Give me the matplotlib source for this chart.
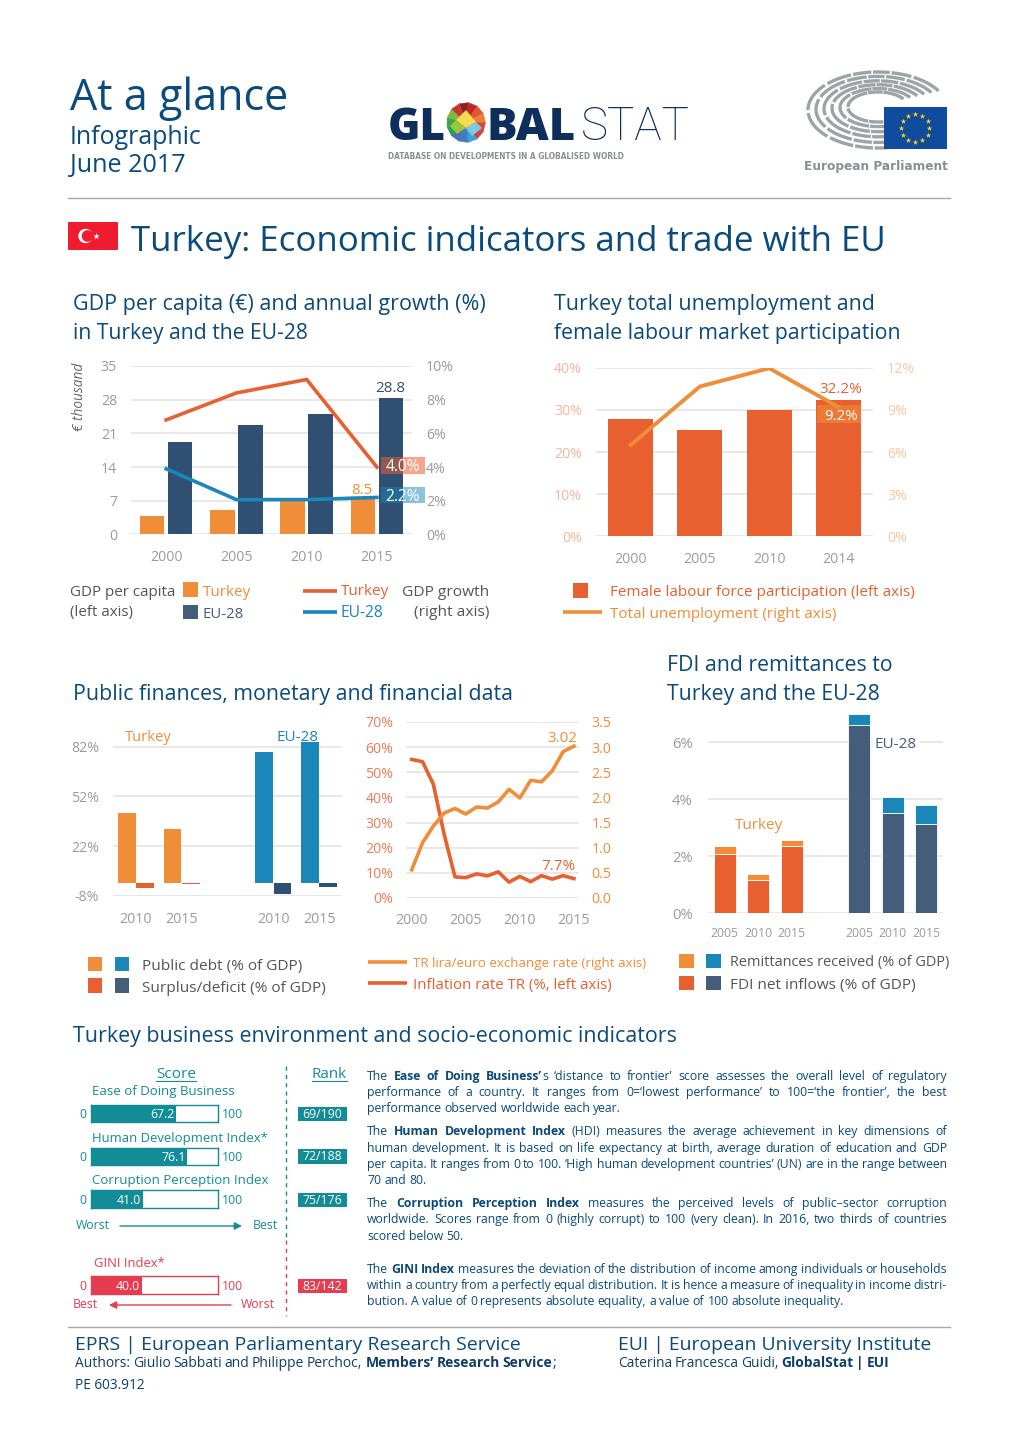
import numpy as np
import matplotlib
matplotlib.use("Agg")
import matplotlib.pyplot as plt
from matplotlib.patches import Rectangle, Polygon, Circle, Arc

W, H = 1020, 1442
plt.rcParams["font.family"] = ["Open Sans", "DejaVu Sans"]

# colours
NAVY = "#0a4a7d"
ORANGE = "#f08d38"
RED = "#e85f30"
DARK = "#2f5073"
BLUE = "#1a86ba"
SLATE = "#445d7a"
TEAL = "#128c97"
PINK = "#e63c50"
GREY = "#9b9b9b"
TXT = "#555555"
GRID = "#e8e8e8"

# GDP per capita and growth
years_gdp = ["2000", "2005", "2010", "2015"]
gdp_turkey = [3.9, 5.0, 7.0, 7.4]
gdp_eu = [19.3, 22.8, 25.0, 28.4]
growth_turkey = [6.8, 8.4, 9.2, 4.0]
growth_eu = [3.9, 2.07, 2.07, 2.2]

# female participation and unemployment
years_lab = ["2000", "2005", "2010", "2014"]
female_part = [27.8, 25.1, 30.0, 32.2]
unemployment = [6.5, 10.65, 11.95, 9.2]

# public finances
fin_years = ["2010", "2015", "2010", "2015"]
debt = [41.8, 32.3, 78.5, 85.0]
deficit = [-3.4, -0.7, -7.0, -2.8]

# inflation and exchange rate
years_tr = list(range(2000, 2016))
inflation = [55.1, 54.2, 45.2, 25.3, 8.4, 8.1, 9.6, 8.8, 10.4, 6.3, 8.6, 6.5, 8.9, 7.5, 8.9, 7.7]
lira_euro = [0.56, 1.10, 1.43, 1.69, 1.78, 1.67, 1.81, 1.79, 1.91, 2.16, 1.99, 2.34, 2.31, 2.53, 2.91, 3.02]

# FDI and remittances
fdi_years = ["2005", "2010", "2015", "2005", "2010", "2015"]
fdi = [2.07, 1.17, 2.38, 6.6, 3.54, 3.14]
remit = [0.31, 0.21, 0.20, 0.40, 0.53, 0.66]

# indices
idx_names = ["Ease of Doing Business", "Human Development Index*", "Corruption Perception Index", "GINI Index*"]
idx_scores = [67.2, 76.1, 41.0, 40.0]
idx_ranks = ["69/190", "72/188", "75/176", "83/142"]

para_lines = [
    (1076, "The **Ease of Doing Business’**s ‘distance to frontier’ score assesses the overall level of regulatory", True),
    (1092, "performance of a country. It ranges from 0=‘lowest performance’ to 100=‘the frontier’, the best", True),
    (1108, "performance observed worldwide each year.", False),
    (1131, "The **Human Development Index** (HDI) measures the average achievement in key dimensions of", True),
    (1148, "human development. It is based on life expectancy at birth, average duration of education and GDP", True),
    (1164, "per capita. It ranges from 0 to 100. ‘High human development countries’ (UN) are in the range between", True),
    (1180, "70 and 80.", False),
    (1203, "The **Corruption Perception Index** measures the perceived levels of public–sector corruption", True),
    (1219, "worldwide. Scores range from 0 (highly corrupt) to 100 (very clean). In 2016, two thirds of countries", True),
    (1236, "scored below 50.", False),
    (1269, "The **GINI Index** measures the deviation of the distribution of income among individuals or households", True),
    (1285, "within a country from a perfectly equal distribution. It is hence a measure of inequality in income distri-", True),
    (1301, "bution. A value of 0 represents absolute equality, a value of 100 absolute inequality.", False),
]

fig = plt.figure(figsize=(W / 100, H / 100), dpi=100, facecolor="white")
pix = fig.add_axes([0, 0, 1, 1], zorder=10)
pix.set_xlim(0, W)
pix.set_ylim(H, 0)
pix.axis("off")
pix.patch.set_alpha(0)
rend = fig.canvas.get_renderer()


def fit(x0, x1, y, s, color=NAVY, size=10, **kw):
    t = pix.text(x0, y, s, color=color, fontsize=size, va="baseline", ha="left", **kw)
    t.set_fontsize(size * (x1 - x0) / t.get_window_extent(rend).width)
    return t


def label(x, y, s, color=GREY, size=9.5, ha="center", **kw):
    return pix.text(x, y, s, color=color, fontsize=size, ha=ha, va="baseline", **kw)


def words_of(line):
    out = []
    prev_space = True
    for i, part in enumerate(line.split("**")):
        for j, p in enumerate(part.split(" ")):
            if p:
                out.append((p, i % 2 == 1, j == 0 and not prev_space))
        if part:
            prev_space = part.endswith(" ")
    return out


def mixed(x0, x1, y, line, size=8.85, justify=True, color=NAVY):
    items = []
    for w, b, glue in words_of(line):
        t = pix.text(x0, y, w, color=color, fontsize=size, fontweight="bold" if b else "normal", va="baseline")
        items.append((t, t.get_window_extent(rend).width, glue))
    space = 0.26 * size * 100 / 72
    ngaps = sum(1 for it in items[1:] if not it[2])
    total = sum(it[1] for it in items)
    scale = 1.0
    if total + ngaps * space * 0.75 > x1 - x0:
        scale = (x1 - x0) / (total + ngaps * space * 0.75)
        for it in items:
            it[0].set_fontsize(size * scale)
        total *= scale
        space *= scale
    gap = (x1 - x0 - total) / ngaps if justify and ngaps else space
    x = x0
    for k, (t, w, glue) in enumerate(items):
        if k and not glue:
            x += gap
        t.set_x(x)
        x += w * scale


def axpx(x0, x1, ytop, ybot):
    ax = fig.add_axes([x0 / W, 1 - ybot / H, (x1 - x0) / W, (ybot - ytop) / H])
    ax.patch.set_alpha(0)
    for s in ax.spines.values():
        s.set_visible(False)
    return ax


def style(ax, left=GREY, pad=10, xcolor=GREY, size=10.2, xpad=10.5):
    ax.tick_params(axis="y", length=0, pad=pad, labelcolor=left, labelsize=size)
    ax.tick_params(axis="x", length=0, pad=xpad, labelcolor=xcolor, labelsize=size)
    ax.yaxis.grid(True, color=GRID, lw=1.4)
    ax.set_axisbelow(True)


def swatch(x0, x1, y0, y1, c):
    pix.add_patch(Rectangle((x0, y0), x1 - x0, y1 - y0, color=c, lw=0))


def legline(x0, x1, y, c):
    pix.plot([x0, x1], [y, y], color=c, lw=2.6, solid_capstyle="butt")


# ---- header ----
fit(70, 289, 110, "At a glance", size=34)
fit(70, 202, 144, "Infographic", size=18)
fit(70, 186, 172, "June 2017", size=18)
pix.plot([68, 950], [198, 198], color="#a8a8a8", lw=1)
fit(131, 886, 251, "Turkey: Economic indicators and trade with EU", size=28)

# flag
pix.add_patch(Rectangle((68, 222), 50, 28, color="#ee1c2e", lw=0))
pix.add_patch(Circle((85.5, 236), 7.2, color="white", lw=0))
pix.add_patch(Circle((87.5, 236), 5.8, color="#ee1c2e", lw=0))
pix.scatter([96], [236], marker="*", s=24, color="white", lw=0)

# globalstat logo
fit(388, 446, 140, "GL", color="#0e2f5c", size=30, fontweight="heavy")
fit(487, 576, 140, "BAL", color="#0e2f5c", size=30, fontweight="heavy")
fit(581, 690, 140, "STAT", color="#0e2f5c", size=30, family=["Roboto"], fontweight=200)
fit(388, 624, 159, "DATABASE ON DEVELOPMENTS IN A GLOBALISED WORLD", color="#8a8f95", size=8,
    family=["DejaVu Sans"], fontstretch="condensed", fontweight="bold")

# egg: a fan of facets around a centre, plus the pale middle
egg_cols = ["#8a1f24", "#c2262c", "#e0582f", "#ef7d33", "#d2493c", "#c9473f",
            "#3f9fd8", "#3f7cc4", "#4c6fb0", "#2e9f52", "#3aa54a", "#7db83f", "#c8372f"]
ang = np.radians(np.linspace(-110, 250, len(egg_cols) + 1))
ex = 466 + 19.5 * np.cos(ang)
ey = 122.5 + 20 * np.sin(ang)
for k, col in enumerate(egg_cols):
    pix.add_patch(Polygon([(466, 122.5), (ex[k], ey[k]), (ex[k + 1], ey[k + 1])], closed=True, color=col, lw=0.3))
pix.add_patch(Polygon([(456, 120), (466, 110), (476, 122), (466, 128)], closed=True, color="#f7dc50", lw=0))
pix.add_patch(Polygon([(466, 128), (476, 122), (482, 128), (472, 136)], closed=True, color="#7fc7e3", lw=0))
pix.add_patch(Polygon([(456, 120), (466, 128), (457, 134), (450, 126)], closed=True, color="#9ac53f", lw=0))

# parliament logo
rings = [(140, 76), (124, 66), (108, 56), (92, 47), (76, 38), (60, 30)]
for i, (w, h) in enumerate(rings):
    starts = np.arange(70, 345, 275 / (5 + (5 - i)))
    step = 275 / (5 + (5 - i))
    for th in starts:
        pix.add_patch(Arc((878, 110 - 0.6 * i), w, h, theta1=th, theta2=th + step - 2.5,
                          color="#9ea3a8", lw=2.4, capstyle="butt"))
pix.add_patch(Rectangle((884, 107), 63, 42, color="#0f4c9e", lw=0, zorder=3))
sang = np.radians(np.arange(0, 360, 30))
pix.scatter(915.5 + 14 * np.cos(sang), 128 + 14 * np.sin(sang), marker="*", s=17, color="#ffd617", lw=0, zorder=4)
fit(804, 947, 170, "European Parliament", color="#8a8f95", size=12,
    family=["DejaVu Sans"], fontstretch="condensed", fontweight="bold")

# ---- section titles ----
fit(73, 486, 310, "GDP per capita (€) and annual growth (%)", size=16)
fit(73, 309, 339, "in Turkey and the EU-28", size=16)
fit(554, 875, 310, "Turkey total unemployment and", size=16)
fit(554, 901, 339, "female labour market participation", size=16)
fit(73, 512, 700, "Public finances, monetary and financial data", size=16)
fit(667, 893, 671, "FDI and remittances to", size=16)
fit(667, 880, 700, "Turkey and the EU-28", size=16)
fit(73, 677, 1042, "Turkey business environment and socio-economic indicators", size=16)

# ---- chart 1 ----
ax = axpx(131, 412, 366, 534.5)
x = np.arange(len(years_gdp))
ax.bar(x - 0.2, gdp_turkey, 0.35, color=ORANGE)
ax.bar(x + 0.2, gdp_eu, 0.35, color=DARK)
ax.set_xlim(-0.5, 3.5)
ax.set_ylim(0, 35)
ax.set_yticks([0, 7, 14, 21, 28, 35])
ax.set_xticks(x, years_gdp)
style(ax, xpad=11)
ax2 = ax.twinx()
ax2.plot(x, growth_turkey, color=RED, lw=2.6, solid_joinstyle="miter")
ax2.plot(x, growth_eu, color=BLUE, lw=2.6, solid_joinstyle="miter")
ax2.set_ylim(0, 10)
ax2.set_yticks([0, 2, 4, 6, 8, 10], ["0%", "2%", "4%", "6%", "8%", "10%"])
ax2.tick_params(axis="y", length=0, pad=10, labelcolor=GREY, labelsize=10.2)
ax2.patch.set_alpha(0)
for s in ax2.spines.values():
    s.set_visible(False)

pix.text(80, 397, "€ thousand", color="#666666", fontsize=9.8, style="italic", rotation=90, ha="center", va="center")
pix.add_patch(Rectangle((381, 457), 44, 17, color=RED, alpha=0.55, lw=0))
pix.add_patch(Rectangle((381, 487), 44, 16, color=BLUE, alpha=0.5, lw=0))
label(403, 471, "4.0%", "white", 11.2)
label(403, 501, "2.2%", "white", 11.2)
label(390, 392, "28.8", DARK, 11)
label(362, 494, "8.5", ORANGE, 11)

fit(70, 176, 596, "GDP per capita", TXT, 10)
fit(70, 133, 616, "(left axis)", TXT, 10)
swatch(183, 198, 582, 597, ORANGE)
swatch(183, 198, 605, 619, SLATE)
fit(203, 251, 596, "Turkey", ORANGE, 10)
fit(203, 244, 618, "EU-28", SLATE, 10)
legline(303, 337, 591, RED)
legline(303, 337, 612, BLUE)
fit(341, 389, 595, "Turkey", RED, 10)
fit(341, 384, 617, "EU-28", BLUE, 10)
fit(402, 489, 596, "GDP growth", TXT, 10)
fit(414, 489, 616, "(right axis)", TXT, 10)

# ---- chart 2 ----
ax = axpx(596, 873, 367.5, 536.5)
x = np.arange(len(years_lab))
ax.bar(x, female_part, 0.65, color=RED)
ax.set_xlim(-0.5, 3.5)
ax.set_ylim(0, 40)
ax.set_yticks([0, 10, 20, 30, 40], ["0%", "10%", "20%", "30%", "40%"])
ax.set_xticks(x, years_lab)
style(ax, left="#f7b49d", xpad=11)
ax2 = ax.twinx()
ax2.plot(x, unemployment, color=ORANGE, lw=2.8, solid_joinstyle="miter")
ax2.set_ylim(0, 12)
ax2.set_yticks([0, 3, 6, 9, 12], ["0%", "3%", "6%", "9%", "12%"])
ax2.tick_params(axis="y", length=0, pad=10, labelcolor="#fbc79c", labelsize=10.2)
ax2.patch.set_alpha(0)
for s in ax2.spines.values():
    s.set_visible(False)

pix.add_patch(Rectangle((817, 405), 44, 18, color=ORANGE, alpha=0.6, lw=0))
label(841, 420, "9.2%", "white", 10.8)
label(841, 393, "32.2%", RED, 11)
swatch(573, 588, 583, 598, RED)
legline(563, 602, 612, ORANGE)
fit(610, 914, 596, "Female labour force participation (left axis)", RED, 10)
fit(610, 837, 618, "Total unemployment (right axis)", ORANGE, 10)

# ---- chart 3a ----
ax = axpx(113, 342, 740, 896)
x = np.array([0, 1, 3, 4])
col_debt = [ORANGE, ORANGE, BLUE, BLUE]
col_def = [RED, RED, DARK, DARK]
ax.bar(x - 0.2, debt, 0.39, color=col_debt)
ax.bar(x + 0.2, deficit, 0.39, color=col_def)
ax.set_xlim(-0.5, 4.5)
ax.set_ylim(-8, 86)
ax.set_yticks([-8, 22, 52, 82], ["-8%", "22%", "52%", "82%"])
ax.set_xticks(x, fin_years)
style(ax, xpad=11.5)
fit(125, 172, 741, "Turkey", ORANGE, 10)
fit(277, 319, 741, "EU-28", BLUE, 10)
swatch(88, 102, 957, 971, ORANGE)
swatch(115, 129, 957, 971, BLUE)
swatch(88, 102, 978, 993, RED)
swatch(115, 129, 978, 993, SLATE)
fit(142, 303, 970, "Public debt (% of GDP)", TXT, 10)
fit(142, 326, 992, "Surplus/deficit (% of GDP)", TXT, 10)

# ---- chart 3b ----
ax = axpx(406, 579, 722, 898)
ax.plot(years_tr, inflation, color=RED, lw=2.6, zorder=3)
ax.set_xlim(1999.47, 2015.47)
ax.set_ylim(0, 70)
ax.set_yticks(range(0, 80, 10), [f"{v}%" for v in range(0, 80, 10)])
ax.set_xticks([2000, 2005, 2010, 2015])
style(ax, left="#ee7b55", pad=9, xpad=11)
ax2 = ax.twinx()
ax2.plot(years_tr, lira_euro, color=ORANGE, lw=2.6)
ax2.set_ylim(0, 3.5)
ax2.set_yticks(np.arange(0, 4, 0.5), [f"{v:.1f}" for v in np.arange(0, 4, 0.5)])
ax2.tick_params(axis="y", length=0, pad=9, labelcolor=ORANGE, labelsize=10.2)
ax2.patch.set_alpha(0)
for s in ax2.spines.values():
    s.set_visible(False)
label(562, 742, "3.02", ORANGE, 11)
label(558, 870, "7.7%", RED, 11)
legline(368, 407, 962, ORANGE)
legline(368, 407, 983, RED)
fit(413, 645, 967, "TR lira/euro exchange rate (right axis)", ORANGE, 10)
fit(413, 612, 989, "Inflation rate TR (%, left axis)", RED, 10)

# ---- chart 3c ----
ax = axpx(708, 943, 714, 913.3)
x = np.array([0, 1, 2, 4, 5, 6])
col_fdi = [RED] * 3 + [SLATE] * 3
col_rem = [ORANGE] * 3 + [BLUE] * 3
ax.bar(x, fdi, 0.66, color=col_fdi, edgecolor="white", lw=0.6)
ax.bar(x, remit, 0.66, bottom=fdi, color=col_rem, edgecolor="white", lw=0.6)
ax.set_xlim(-0.5, 6.5)
ax.set_ylim(0, 7)
ax.set_yticks([0, 2, 4, 6], ["0%", "2%", "4%", "6%"])
ax.set_xticks(x, fdi_years)
style(ax, pad=11)
ax.tick_params(axis="x", labelsize=8.8, pad=10)
ax.tick_params(axis="y", labelsize=10.6)
pix.add_patch(Rectangle((872, 735), 48, 15, color="white", lw=0))
fit(875, 917, 748, "EU-28", SLATE, 10)
fit(735, 783, 829, "Turkey", ORANGE, 10)
swatch(679, 694, 954, 968, ORANGE)
swatch(706, 721, 954, 968, BLUE)
swatch(679, 694, 976, 990, RED)
swatch(706, 721, 976, 990, SLATE)
fit(730, 949, 966, "Remittances received (% of GDP)", TXT, 10)
fit(730, 916, 989, "FDI net inflows (% of GDP)", TXT, 10)

# ---- scores ----
fit(156, 196, 1078, "Score", TEAL, 11)
pix.plot([156, 196], [1080.5, 1080.5], color=TEAL, lw=0.8)
fit(312, 347, 1078, "Rank", TEAL, 11)
pix.plot([312, 347], [1080.5, 1080.5], color=TEAL, lw=0.8)
name_pos = [(92, 235, 1095), (92, 269, 1142), (92, 269, 1184), (94, 165, 1267)]
bar_pos = [(1104.5, 1122), (1147.5, 1165), (1190, 1208), (1276, 1294)]
rank_pos = [(1107, 1121), (1149, 1164), (1193, 1207), (1279, 1293)]
for i, name in enumerate(idx_names):
    c = TEAL if i < 3 else PINK
    x0, x1, y = name_pos[i]
    fit(x0, x1, y, name, c, 9)
    ytop, ybot = bar_pos[i]
    ax = axpx(91, 217.5, ytop, ybot)
    ax.barh([0], [idx_scores[i]], height=1, color=c)
    ax.set_xlim(0, 100)
    ax.set_ylim(-0.5, 0.5)
    ax.set_xticks([])
    ax.set_yticks([])
    for s in ax.spines.values():
        s.set_visible(True)
        s.set_color(c)
        s.set_linewidth(1)
    base = ybot - 4
    label(91 + 126.5 * idx_scores[i] / 100 - 1.5, base, f"{idx_scores[i]:.1f}", "white", 8.8, ha="right")
    label(83, base, "0", c if i == 3 else TEAL, 8.8)
    label(222, base, "100", c, 8.8, ha="left")
    rt, rb = rank_pos[i]
    pix.add_patch(Rectangle((298, rt), 49, rb - rt, color=c, lw=0))
    label(322.5, rb - 3.5, idx_ranks[i], "white", 8.8)

label(76, 1229, "Worst", TEAL, 8.8, ha="left")
label(253, 1229, "Best", TEAL, 8.8, ha="left")
pix.annotate("", xy=(242, 1226), xytext=(120, 1226),
             arrowprops=dict(arrowstyle="-|>", color=TEAL, lw=1, mutation_scale=11, shrinkA=0, shrinkB=0))
label(73, 1308, "Best", PINK, 8.8, ha="left")
label(241, 1308, "Worst", PINK, 8.8, ha="left")
pix.annotate("", xy=(109, 1305), xytext=(231, 1305),
             arrowprops=dict(arrowstyle="-|>", color=PINK, lw=1, mutation_scale=11, shrinkA=0, shrinkB=0))
pix.plot([286, 286], [1066, 1240], color=TEAL, lw=1, ls=(0, (3, 3)))
pix.plot([286, 286], [1240, 1316], color=PINK, lw=1, ls=(0, (3, 3)))

for y, line, just in para_lines:
    mixed(367, 947, y + 4, line, justify=just)

# ---- footer ----
pix.plot([68, 950], [1327, 1327], color="#a8a8a8", lw=1)
fit(75, 519, 1350, "EPRS | European Parliamentary Research Service", size=15)
mixed(75, 556, 1367, "Authors: Giulio Sabbati and Philippe Perchoc, **Members’ Research Service**;", size=10.2, color="#0d3f68")
fit(75, 145, 1389, "PE 603.912", "#0d3f68", 9.5)
fit(618, 932, 1350, "EUI | European University Institute", size=15)
mixed(618, 889, 1367, "Caterina Francesca Guidi, **GlobalStat | EUI**", size=10.2, color="#0d3f68")

fig.savefig("out.png", dpi=100)
